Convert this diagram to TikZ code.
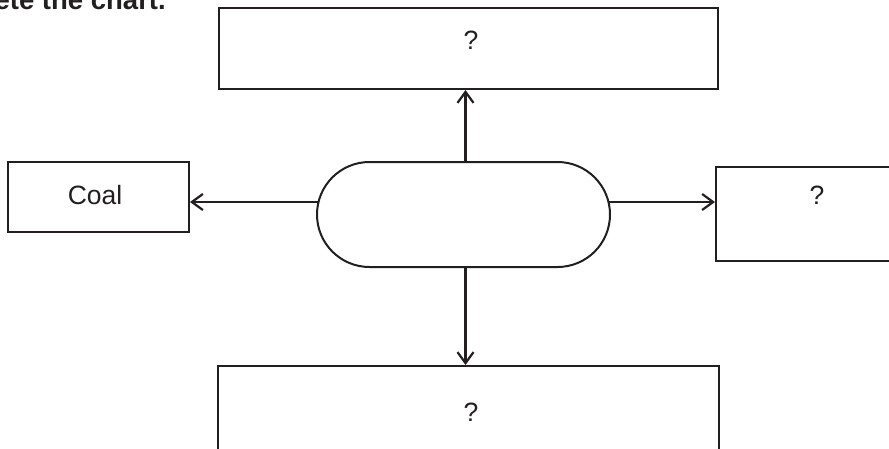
\documentclass[tikz,border=0pt]{standalone}
\usepackage{fontspec}
\setmainfont{Liberation Sans}
\usetikzlibrary{arrows.meta}
\definecolor{ink}{HTML}{231F20}
\begin{document}
\begin{tikzpicture}[x=1pt,y=-1pt,
  box/.style={draw=ink, line width=2pt, rectangle, inner sep=0pt},
  lbl/.style={text=ink, font=\fontsize{26.5}{30}\selectfont, inner sep=0pt},
  arr/.style={draw=ink, line width=2.2pt, -{Straight Barb[length=11pt,width=16pt,line width=2.2pt]}}]
\useasboundingbox (0,0) rectangle (889,448);
\clip (0,0) rectangle (889,448);
\fill[white] (0,0) rectangle (889,448);
\node[box, minimum width=499pt, minimum height=81pt] (top) at (468.5,48.5) {};
\node[box, minimum width=181pt, minimum height=70pt] (coal) at (98.5,197) {};
\node[box, minimum width=200pt, minimum height=94pt, anchor=north west] (right) at (715,166) {};
\node[box, minimum width=501pt, minimum height=120pt, anchor=north west] (bottom) at (217,365) {};
\node[draw=ink, line width=2pt, minimum width=293pt, minimum height=105pt, rounded corners=52.5pt, inner sep=0pt] (hub) at (463.5,214.5) {};
\node[lbl] (tq) at (471,40) {?};
\node[lbl] (cl) at (95,195) {Coal};
\node[lbl] (rq) at (817,195) {?};
\node[lbl] (bq) at (471,412.5) {?};
\node[anchor=base east, font=\bfseries\fontsize{27.5}{30}\selectfont, text=ink, inner sep=0pt] (title) at (166,9) {Complete the chart.};
\coordinate (hl) at (318.5,202);
\coordinate (hr) at (608.5,202);
\coordinate (ht) at (465.5,162);
\coordinate (hb) at (465.5,267);
\draw[arr] (hl) -- (coal.east |- hl);
\draw[arr] (hr) -- (right.west |- hr);
\draw[arr] (ht) -- (top.south -| ht);
\draw[arr] (hb) -- (bottom.north -| hb);
\end{tikzpicture}
\end{document}
